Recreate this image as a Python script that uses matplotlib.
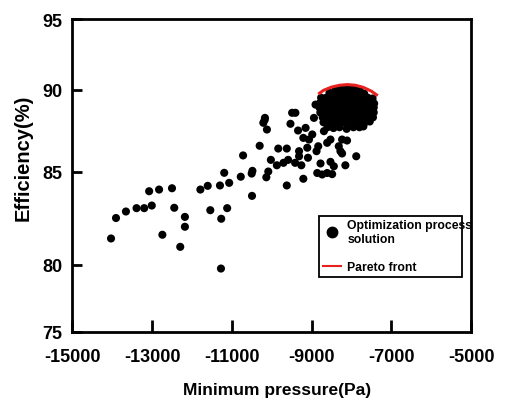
import numpy as np
import matplotlib
matplotlib.use("Agg")
import matplotlib.pyplot as plt
from matplotlib.lines import Line2D

# ---- data: scattered optimisation solutions (Minimum pressure Pa, Efficiency %) ----
scatter_x = [-14029, -13904, -13655, -13389, -13197, -13073, -13007, -12824, -12741, -12500,
             -12443, -12293, -12176, -12176, -11788, -11604, -11539, -11297, -11265, -11272,
             -11190, -11116, -11066, -10775, -10717, -10501, -10483, -10493, -10301, -10209,
             -10169, -10119, -10134, -10085, -10020, -9870, -9835, -9621, -9621, -9704,
             -9587, -9529, -9487, -9405, -9412, -9338, -9313, -9313, -9256, -9206,
             -9206, -9149, -9107, -9090, -9065, -8982, -8940, -8900, -8875, -8857,
             -8832, -8775, -8733, -8690, -8608, -8608, -8525, -8525, -8483, -8441,
             -8276, -8234, -8152, -8110, -8234, -7879, -8317, -10175]
scatter_y = [81.4, 82.5, 82.85, 83.03, 83.03, 83.94, 83.17, 84.03, 81.6, 84.1,
             83.05, 80.95, 82.56, 82.03, 84.03, 84.23, 82.92, 84.25, 82.46, 79.7,
             84.93, 83.03, 84.39, 84.72, 85.98, 84.89, 85.04, 83.69, 86.57, 87.97,
             88.27, 87.56, 84.69, 85.0, 85.71, 85.38, 86.4, 86.4, 84.25, 85.53,
             85.71, 87.91, 88.58, 88.58, 85.53, 87.5, 86.24, 85.93, 85.38, 84.61,
             87.05, 87.66, 86.45, 85.84, 86.95, 87.26, 88.27, 89.08, 86.24, 84.92,
             86.54, 85.49, 84.84, 87.46, 84.92, 86.75, 85.59, 86.95, 84.86, 85.32,
             86.24, 86.95, 85.38, 86.89, 86.1, 85.93, 86.54, 88.15]

# dense cluster of solutions near the Pareto front
cluster_x = [-8400, -8250, -8100, -7950, -7800,
             -8550, -8420, -8290, -8160, -8030, -7900, -7770, -7680,
             -8760, -8630, -8500, -8370, -8240, -8110, -7980, -7850, -7720, -7590, -7470,
             -8780, -8670, -8540, -8410, -8280, -8150, -8020, -7890, -7760, -7630, -7500, -7430,
             -8800, -8700, -8570, -8440, -8310, -8180, -8050, -7920, -7790, -7660, -7530, -7440,
             -8780, -8670, -8540, -8410, -8280, -8150, -8020, -7890, -7760, -7630, -7500, -7440,
             -8720, -8590, -8460, -8330, -8200, -8070, -7940, -7810, -7680, -7550, -7460,
             -8700, -8570, -8440, -8310, -8180, -8050, -7920, -7790, -7660, -7540,
             -8600, -8450, -8300, -8120, -7950, -7800, -7700]
cluster_y = [90.0, 90.05, 90.05, 90.05, 90.0,
             89.8, 89.8, 89.8, 89.8, 89.8, 89.8, 89.8, 89.75,
             89.5, 89.5, 89.5, 89.5, 89.5, 89.5, 89.5, 89.5, 89.5, 89.5, 89.45,
             89.2, 89.2, 89.2, 89.2, 89.2, 89.2, 89.2, 89.2, 89.2, 89.2, 89.2, 89.15,
             88.9, 88.9, 88.9, 88.9, 88.9, 88.9, 88.9, 88.9, 88.9, 88.9, 88.9, 88.9,
             88.6, 88.6, 88.6, 88.6, 88.6, 88.6, 88.6, 88.6, 88.6, 88.6, 88.6, 88.6,
             88.3, 88.3, 88.3, 88.3, 88.3, 88.3, 88.3, 88.3, 88.3, 88.3, 88.3,
             88.0, 88.0, 88.0, 88.0, 88.0, 88.0, 88.0, 88.0, 88.0, 88.05,
             87.7, 87.65, 87.7, 87.6, 87.7, 87.7, 87.75]

# Pareto front
pareto_x = [-8830, -8700, -8500, -8300, -8100, -7900, -7700, -7500, -7340]
pareto_y = [89.72, 89.95, 90.17, 90.3, 90.35, 90.3, 90.15, 89.9, 89.62]

x_ticks = [-15000, -13000, -11000, -9000, -7000, -5000]
y_ticks = [75, 80, 85, 90, 95]

# ---- figure ----
fig = plt.figure(figsize=(5.06, 4.06), dpi=100)
ax = fig.add_axes([0.1429, 0.181, 0.788, 0.7697])

# the original y axis is unevenly spaced; reproduce with a piecewise-linear scale
_yk = [75, 80, 85, 90, 95]
_yp = [0, 67, 160, 242, 312.5]
def _fwd(v):
    return np.interp(v, _yk, _yp)
def _inv(v):
    return np.interp(v, _yp, _yk)
ax.set_yscale('function', functions=(_fwd, _inv))

ax.scatter(scatter_x, scatter_y, s=34, color='black', edgecolors='none', zorder=2)
ax.scatter(cluster_x, cluster_y, s=34, color='black', edgecolors='none', zorder=2)
ax.plot(pareto_x, pareto_y, color='#e8211e', lw=2.2, zorder=3, solid_capstyle='butt')

ax.set_xlim(-15000, -5000)
ax.set_ylim(75, 95)
ax.set_xticks(x_ticks)
ax.set_yticks(y_ticks)
ax.set_xticklabels([str(v) for v in x_ticks])
ax.set_yticklabels([str(v) for v in y_ticks])
ax.minorticks_off()

fam = ['Liberation Sans', 'DejaVu Sans']
for lab in ax.get_xticklabels() + ax.get_yticklabels():
    lab.set_fontfamily(fam)
    lab.set_fontsize(13)
    lab.set_fontweight('bold')

ax.tick_params(axis='x', direction='in', length=9, width=2, pad=12)
ax.tick_params(axis='y', direction='in', length=7, width=2, pad=7)
for sp in ax.spines.values():
    sp.set_linewidth(2)

ax.set_xlabel('Minimum pressure(Pa)', family=fam, size=12.5, weight='bold', va='center')
ax.xaxis.set_label_coords(0.5147, -0.187)
ax.set_ylabel('Efficiency(%)', family=fam, size=14.5, weight='bold', va='center', ha='center')
ax.yaxis.set_label_coords(-0.1244, 0.56)

handles = [Line2D([], [], marker='o', color='black', ls='none', markersize=7.5),
           Line2D([], [], color='#e8211e', lw=1.5)]
leg = ax.legend(handles, ['Optimization process\nsolution', 'Pareto front'],
                loc='lower left', bbox_to_anchor=(0.619, 0.174, 0.358, 0.202),
                mode='expand', borderaxespad=0, frameon=True, fancybox=False, framealpha=1,
                edgecolor='black', borderpad=0.3, labelspacing=1.35,
                handlelength=1.5, handletextpad=0.5,
                prop=dict(family=fam, size=8.8, weight='bold'))
leg.get_frame().set_linewidth(1.3)

fig.savefig('out.png', dpi=100)
